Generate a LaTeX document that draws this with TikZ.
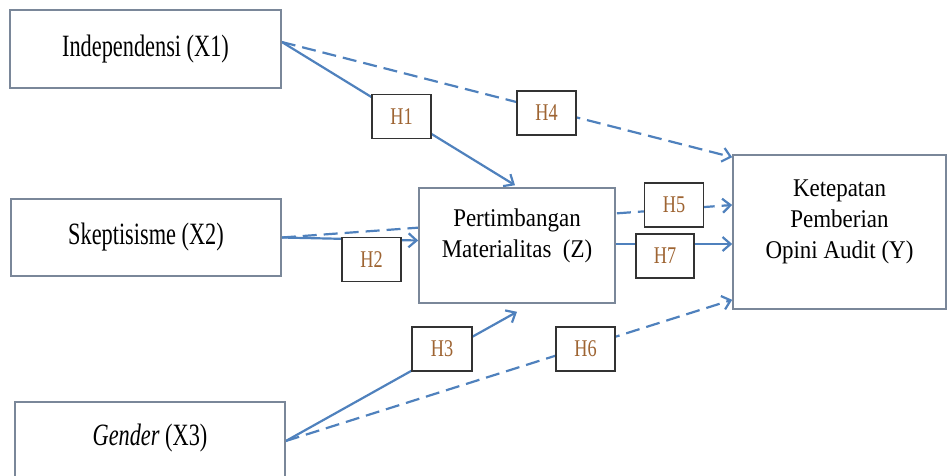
\documentclass[tikz,border=0pt]{standalone}
\usepackage{fontspec}
\setmainfont{Liberation Serif}
\newfontfamily\xfont{Liberation Serif}[FakeStretch=0.72]
\newfontfamily\zfont{Liberation Serif}[FakeStretch=0.9]
\newfontfamily\hfont{Liberation Serif}[FakeStretch=0.76]
\usetikzlibrary{arrows.meta,backgrounds,calc}
\definecolor{lineblue}{HTML}{4F81BD}
\definecolor{boxgray}{HTML}{7A8799}
\definecolor{hborder}{HTML}{333333}
\definecolor{hbrown}{RGB}{158,100,50}
\begin{document}
\begin{tikzpicture}[x=1pt,y=-1pt,
  mainbox/.style={draw=boxgray, line width=1.6pt, fill=white, rectangle, inner sep=0pt},
  xtext/.style={font=\xfont\fontsize{31}{37}\selectfont},
  ztext/.style={align=center, font=\zfont\fontsize{25.5}{31}\selectfont},
  hbox/.style={draw=hborder, line width=1.5pt, fill=white, rectangle, minimum width=59pt, minimum height=44pt, inner sep=0pt, text=hbrown, font=\hfont\fontsize{24}{28}\selectfont},
  conn/.style={draw=lineblue, line width=2.2pt, -{Straight Barb[length=8pt,width=14pt]}},
  dconn/.style={conn, dash pattern=on 14pt off 7pt}]
\useasboundingbox (0,0) rectangle (949,475);
\clip (0,0) rectangle (949,475);
% main boxes
\node[mainbox, xtext, minimum width=271pt, minimum height=78pt] (x1) at (145.5,49) {Independensi (X1)};
\node[mainbox, xtext, minimum width=270pt, minimum height=77pt] (x2) at (146,237.5) {Skeptisisme (X2)};
\node[mainbox, minimum width=270pt, minimum height=76pt] (x3) at (150,440) {};
\node[xtext] (x3t) at (150,438) {\textit{Gender} (X3)};
\node[mainbox, minimum width=196pt, minimum height=115pt] (z) at (517,245.5) {};
\node[ztext] (zt) at (517,236) {Pertimbangan\\Materialitas~ (Z)};
\node[mainbox, minimum width=213pt, minimum height=154pt] (y) at (839.5,232) {};
\node[ztext] (yt) at (839.5,222) {Ketepatan\\Pemberian\\Opini Audit (Y)};
% hypothesis labels
\node[hbox] (h1) at (401.5,116.5) {H1};
\node[hbox] (h4) at (546.5,113) {H4};
\node[hbox] (h2) at (371.5,259.5) {H2};
\node[hbox] (h5) at (674,205) {H5};
\node[hbox, minimum width=58pt] (h7) at (665,256) {H7};
\node[hbox, minimum width=60pt] (h3) at (442,349) {H3};
\node[hbox] (h6) at (585.5,349) {H6};
% connectors
\begin{pgfonlayer}{background}
\draw[conn] ([yshift=7pt]x1.east) -- ([xshift=-2pt,yshift=2pt]z.north);
\draw[dconn] ([yshift=7pt]x1.east) -- ([yshift=-3pt]y.north west);
\draw[dconn] (x2.east) -- ([yshift=27pt]y.west);
\draw[conn] (x2.east) -- ([yshift=5pt]z.west);
\draw[conn] ([yshift=1.5pt]z.east) -- ([yshift=1.5pt]z.east -| y.west);
\draw[conn] ([yshift=-1pt]x3.east) -- ([yshift=-8pt]z.south);
\draw[dconn] ([yshift=-1pt]x3.east) -- ([yshift=10pt]y.south west);
\end{pgfonlayer}
\end{tikzpicture}
\end{document}
